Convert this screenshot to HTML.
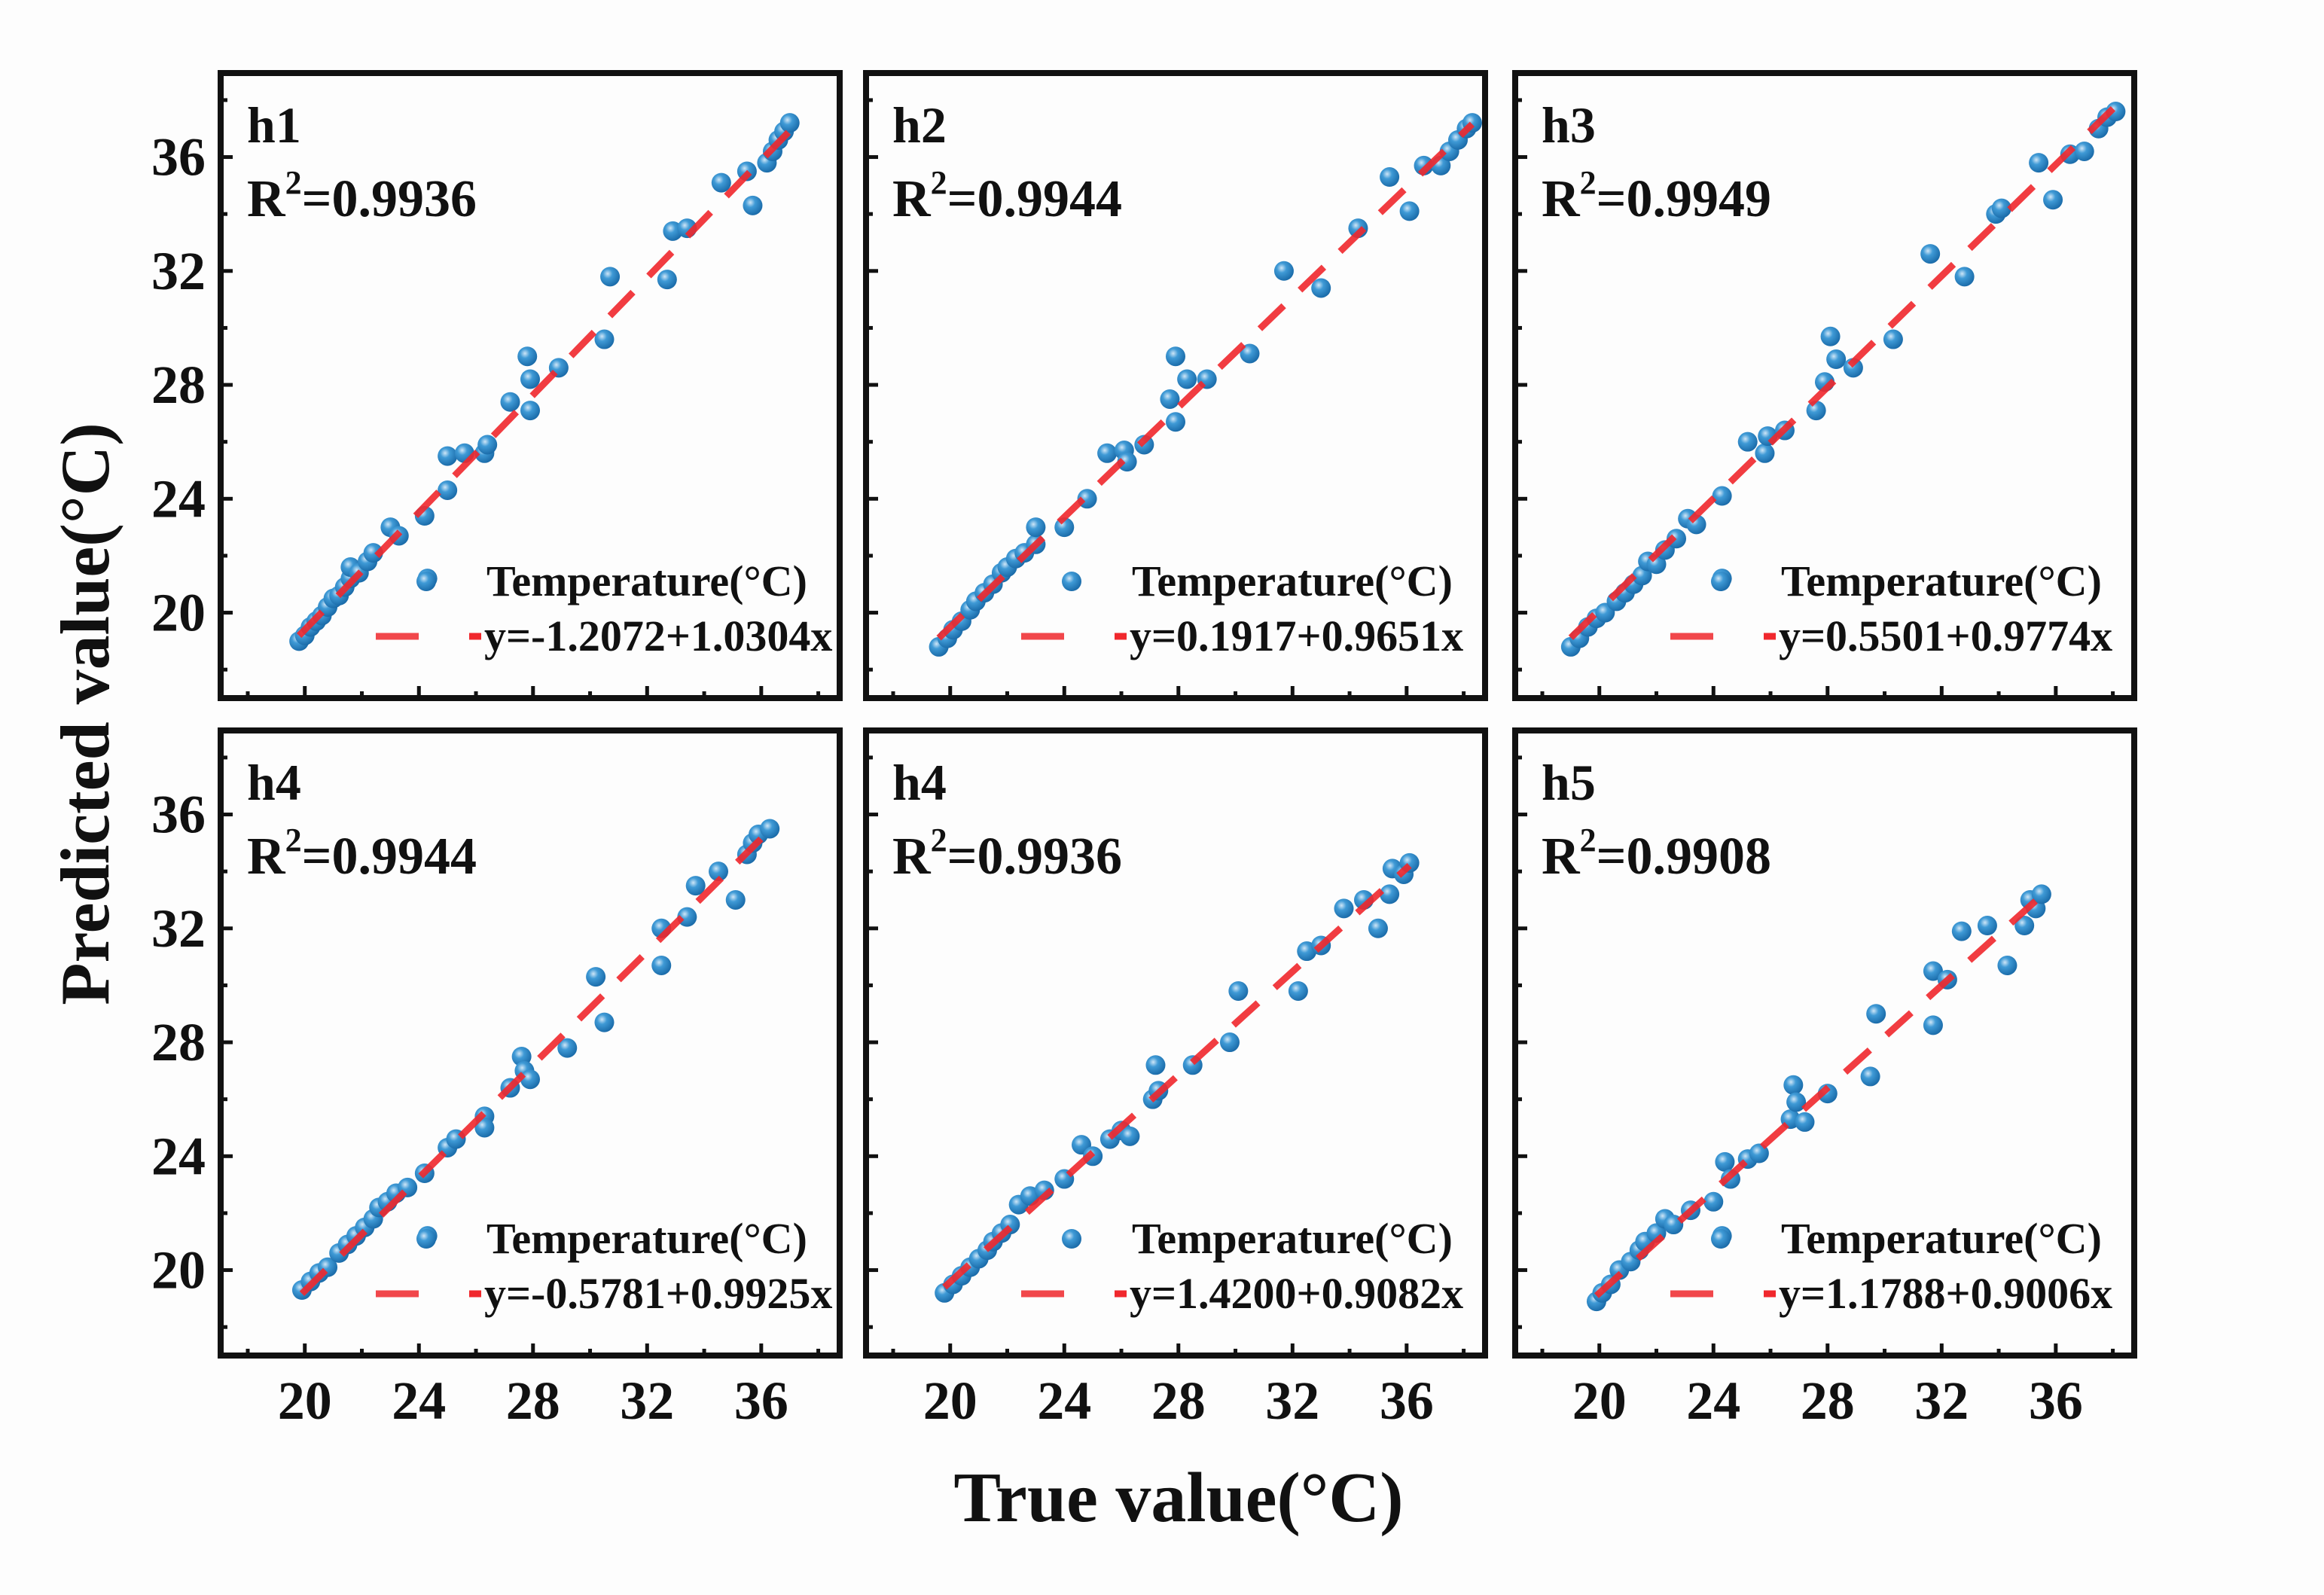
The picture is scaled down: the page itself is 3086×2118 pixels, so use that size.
<!DOCTYPE html>
<html><head><meta charset="utf-8"><style>
html,body{margin:0;padding:0;background:#fdfdfd;}
svg{display:block;font-family:"Liberation Serif",serif;font-weight:bold;}
</style></head><body>
<svg id="chart" width="3086" height="2118" viewBox="0 0 3086 2118" xmlns="http://www.w3.org/2000/svg">
<rect x="0" y="0" width="3086" height="2118" fill="#fdfdfd"/>
<text x="0" y="0" transform="translate(144,948) rotate(-90)" text-anchor="middle" font-size="92" fill="#111">Predicted value(°C)</text>
<text x="1565" y="2020" text-anchor="middle" font-size="94" fill="#111">True value(°C)</text>
</svg>
<script>
const panelNames = ["h1","h2","h3","h4","h4","h5"];
const r2Values = ["0.9936","0.9944","0.9949","0.9944","0.9936","0.9908"];
const interceptValues = [-1.2072, 0.1917, 0.5501, -0.5781, 1.4200, 1.1788];
const slopeValues = [1.0304, 0.9651, 0.9774, 0.9925, 0.9082, 0.9006];
const xTicks = [20,24,28,32,36];
const yTicks = [20,24,28,32,36];
const trueH1 = [19.8,20.0,20.2,20.4,20.6,20.8,21.0,21.2,21.4,21.6,21.6,21.9,22.2,22.4,23.0,23.3,24.2,24.3,25.0,25.0,25.6,26.3,26.4,27.2,27.8,27.9,27.9,28.9,30.5,30.7,32.7,32.9,33.4,34.6,35.5,35.7,36.2,36.4,36.6,36.8,37.0];
const predH1 = [19.0,19.2,19.5,19.7,19.9,20.2,20.5,20.6,20.9,21.2,21.6,21.4,21.8,22.1,23.0,22.7,23.4,21.2,24.3,25.5,25.6,25.6,25.9,27.4,29.0,28.2,27.1,28.6,29.6,31.8,31.7,33.4,33.5,35.1,35.5,34.3,35.8,36.2,36.6,36.9,37.2];
const trueH2 = [19.6,19.9,20.1,20.4,20.7,20.9,21.2,21.5,21.8,22.0,22.3,22.6,23.0,23.0,24.0,24.8,25.5,26.1,26.2,26.8,27.7,27.9,27.9,28.3,29.0,30.5,31.7,33.0,34.3,35.4,36.1,36.6,37.2,37.5,37.8,38.1,38.3];
const predH2 = [18.8,19.1,19.4,19.7,20.1,20.4,20.7,21.0,21.4,21.6,21.9,22.1,22.4,23.0,23.0,24.0,25.6,25.7,25.3,25.9,27.5,29.0,26.7,28.2,28.2,29.1,32.0,31.4,33.5,35.3,34.1,35.7,35.7,36.2,36.6,37.0,37.2];
const trueH3 = [19.0,19.3,19.6,19.9,20.2,20.6,20.9,21.2,21.5,21.7,22.0,22.3,22.7,23.1,23.4,24.3,24.3,25.2,25.8,25.9,26.5,27.6,27.9,28.1,28.3,28.9,30.3,31.6,32.8,33.9,34.1,35.4,35.9,36.5,37.0,37.5,37.8,38.1];
const predH3 = [18.8,19.1,19.5,19.8,20.0,20.4,20.7,21.0,21.3,21.8,21.7,22.2,22.6,23.3,23.1,24.1,21.2,26.0,25.6,26.2,26.4,27.1,28.1,29.7,28.9,28.6,29.6,32.6,31.8,34.0,34.2,35.8,34.5,36.1,36.2,37.0,37.4,37.6];
const trueH4 = [19.9,20.2,20.5,20.8,21.2,21.5,21.8,22.1,22.4,22.6,22.9,23.2,23.6,24.2,24.3,25.0,25.3,26.3,26.3,27.2,27.6,27.7,27.9,29.2,30.2,30.5,32.5,32.5,33.4,33.7,34.5,35.1,35.5,35.7,35.9,36.3];
const predH4 = [19.3,19.6,19.9,20.1,20.6,20.9,21.2,21.5,21.8,22.2,22.4,22.7,22.9,23.4,21.2,24.3,24.6,25.4,25.0,26.4,27.5,27.0,26.7,27.8,30.3,28.7,32.0,30.7,32.4,33.5,34.0,33.0,34.6,35.0,35.3,35.5];
const trueH4b = [19.8,20.1,20.4,20.7,21.0,21.3,21.5,21.8,22.1,22.4,22.8,23.3,24.0,24.6,25.0,25.6,26.0,26.3,27.1,27.2,27.3,28.5,29.8,30.1,32.2,32.5,33.0,33.8,34.5,35.0,35.4,35.5,35.9,36.1];
const predH4b = [19.2,19.5,19.8,20.1,20.4,20.7,21.0,21.3,21.6,22.3,22.6,22.8,23.2,24.4,24.0,24.6,24.9,24.7,26.0,27.2,26.3,27.2,28.0,29.8,29.8,31.2,31.4,32.7,33.0,32.0,33.2,34.1,33.9,34.3];
const trueH5 = [19.9,20.1,20.4,20.7,21.1,21.4,21.6,22.0,22.3,22.6,23.2,24.0,24.3,24.4,24.6,25.2,25.6,26.7,26.8,26.9,27.2,28.0,29.5,29.7,31.7,31.7,32.2,32.7,33.6,34.3,34.9,35.1,35.3,35.5];
const predH5 = [18.9,19.2,19.5,20.0,20.3,20.7,21.0,21.3,21.8,21.6,22.1,22.4,21.2,23.8,23.2,23.9,24.1,25.3,26.5,25.9,25.2,26.2,26.8,29.0,28.6,30.5,30.2,31.9,32.1,30.7,32.1,33.0,32.7,33.2];

const trueSets = [trueH1,trueH2,trueH3,trueH4,trueH4b,trueH5];
const predSets = [predH1,predH2,predH3,predH4,predH4b,predH5];

const NS = "http://www.w3.org/2000/svg";
const svg = document.getElementById("chart");
const panelLeft = [293,1150,2012], panelTop = [97,970];
const PW = 822, PH = 830;
const XMIN = 17.05, XMAX = 38.75, YMIN = 17.0, YMAX = 38.95;

const defs = document.createElementNS(NS,"defs");
defs.innerHTML = '<radialGradient id="ball" cx="0.38" cy="0.35" r="0.7"><stop offset="0" stop-color="#cfe6f7"/><stop offset="0.35" stop-color="#3f9ad6"/><stop offset="1" stop-color="#1767a5"/></radialGradient>';
svg.appendChild(defs);

function mk(tag, attrs, parent){
  const e = document.createElementNS(NS, tag);
  for (const k in attrs) e.setAttribute(k, attrs[k]);
  (parent||svg).appendChild(e);
  return e;
}

for (let p=0;p<6;p++){
  const col = p%3, row = Math.floor(p/3);
  const L = panelLeft[col], T = panelTop[row];
  const sx = v => L + (v - XMIN)/(XMAX - XMIN)*PW;
  const sy = v => T + PH - (v - YMIN)/(YMAX - YMIN)*PH;
  const g = mk("g",{});
  
  

  for (let v=18; v<=38; v+=2){
    const major = v%4===0, len = major?16:9;
    const x = sx(v);
    const t1 = mk("line",{x1:x,y1:T+PH,x2:x,y2:T+PH-len,stroke:"#111","stroke-width":5},g);
    
    
    const y = sy(v);
    const t2 = mk("line",{x1:L,y1:y,x2:L+len,y2:y,stroke:"#111","stroke-width":5},g);
    
    
  }
  if (col===0){
    yTicks.forEach(v=>{
      const t = mk("text",{x:L-20,y:sy(v)+24,"text-anchor":"end","font-size":72,fill:"#111"},g);
      t.textContent = v;
      
      
    });
  }
  if (row===1){
    xTicks.forEach(v=>{
      const t = mk("text",{x:sx(v),y:T+PH+84,"text-anchor":"middle","font-size":72,fill:"#111"},g);
      t.textContent = v;
      
      
    });
  }

  const xs = trueSets[p], ys = predSets[p];
  for (let i=0;i<xs.length;i++){
    const c = mk("circle",{cx:sx(xs[i]),cy:sy(ys[i]),r:13,fill:"url(#ball)"},g);
    
    
  }
  const x0 = Math.min(...xs), x1 = Math.max(...xs);
  const fl = mk("line",{x1:sx(x0),y1:sy(interceptValues[p]+slopeValues[p]*x0),x2:sx(x1),y2:sy(interceptValues[p]+slopeValues[p]*x1),stroke:"#f0282d","stroke-width":9,"stroke-dasharray":"44 30",opacity:0.9},g);
  
  

  const fr = mk("rect",{x:L,y:T,width:PW,height:PH,fill:"none",stroke:"#111","stroke-width":8},g);
  
  

  const nt = mk("text",{x:L+35,y:T+92,"font-size":68,fill:"#111"},g);
  nt.textContent = panelNames[p];
  
  
  const rt = mk("text",{x:L+35,y:T+190,"font-size":70,fill:"#111"},g);
  rt.innerHTML = 'R<tspan dy="-30" font-size="44">2</tspan><tspan dy="30">=' + r2Values[p] + '</tspan>';
  
  

  const lm = mk("circle",{cx:L+273,cy:T+675,r:13,fill:"url(#ball)"},g);
  
  
  const lt = mk("text",{x:L+353,y:T+694,"font-size":58,fill:"#111"},g);
  lt.textContent = "Temperature(°C)";
  
  
  const ll = mk("line",{x1:L+206,y1:T+748,x2:L+263,y2:T+748,stroke:"#f0282d","stroke-width":9,opacity:0.85},g);
  
  
  const ll2 = mk("line",{x1:L+330,y1:T+748,x2:L+346,y2:T+748,stroke:"#f0282d","stroke-width":9},g);
  
  
  const b = interceptValues[p], m = slopeValues[p];
  const eq = mk("text",{x:L+350,y:T+767,"font-size":58,fill:"#111"},g);
  eq.textContent = "y=" + b.toFixed(4) + "+" + m.toFixed(4) + "x";
  
  
}
</script>
</body></html>
